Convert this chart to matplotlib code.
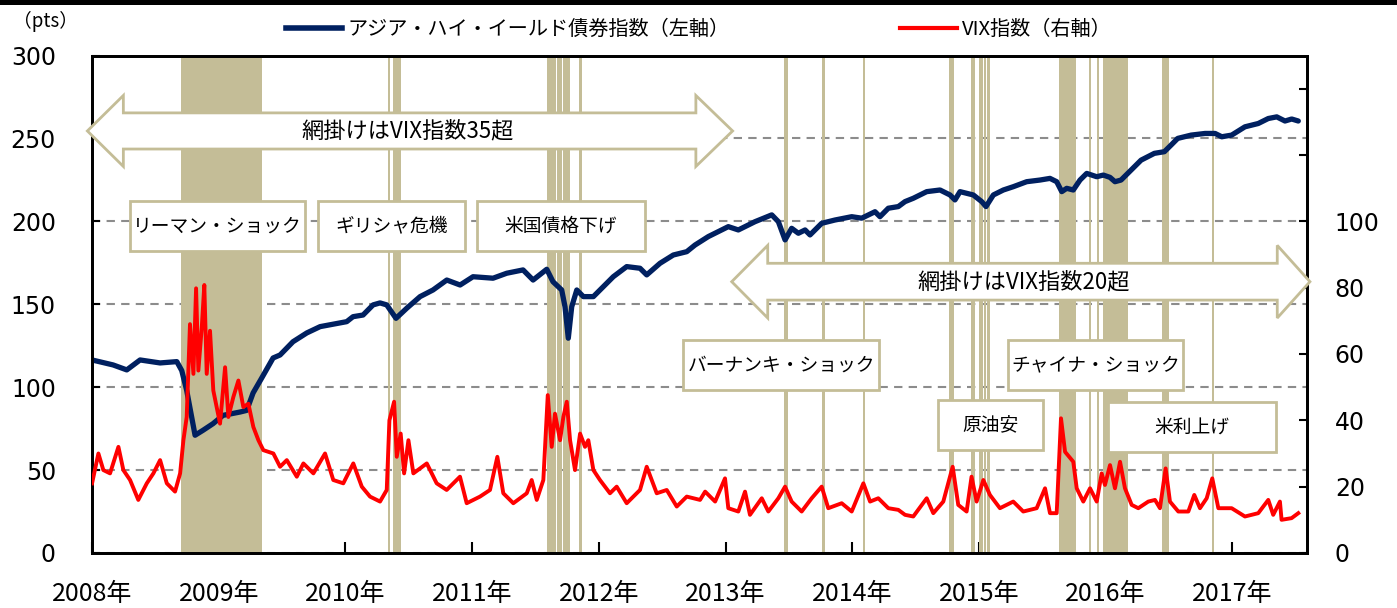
import matplotlib
matplotlib.use("Agg")
import matplotlib.pyplot as plt
from matplotlib.lines import Line2D
from matplotlib.patches import Polygon, Rectangle
import numpy as np

plt.rcParams['font.family'] = ['Noto Sans CJK JP', 'DejaVu Sans']

# Asia high yield bond index (left axis), x in decimal years
hy_t = [2008.000, 2008.166, 2008.274, 2008.379, 2008.537, 2008.669, 2008.708, 2008.747,
        2008.813, 2008.876, 2008.955, 2009.034, 2009.168, 2009.221, 2009.271, 2009.339,
        2009.429, 2009.484, 2009.586, 2009.695, 2009.800, 2010.010, 2010.060, 2010.139,
        2010.218, 2010.273, 2010.326, 2010.399, 2010.484, 2010.589, 2010.691, 2010.800,
        2010.905, 2011.007, 2011.165, 2011.273, 2011.402, 2011.481, 2011.589, 2011.638,
        2011.707, 2011.733, 2011.759, 2011.786, 2011.826, 2011.878, 2011.957, 2012.114,
        2012.220, 2012.325, 2012.378, 2012.483, 2012.588, 2012.694, 2012.759, 2012.864,
        2013.022, 2013.101, 2013.233, 2013.365, 2013.417, 2013.470, 2013.522, 2013.575,
        2013.628, 2013.667, 2013.759, 2013.864, 2013.996, 2014.075, 2014.180, 2014.219,
        2014.285, 2014.364, 2014.417, 2014.482, 2014.588, 2014.693, 2014.772, 2014.811,
        2014.851, 2014.956, 2015.022, 2015.056, 2015.114, 2015.193, 2015.272, 2015.377,
        2015.482, 2015.561, 2015.614, 2015.654, 2015.693, 2015.745, 2015.798, 2015.851,
        2015.930, 2015.982, 2016.035, 2016.074, 2016.122, 2016.201, 2016.280, 2016.385,
        2016.464, 2016.517, 2016.569, 2016.675, 2016.785, 2016.864, 2016.917, 2016.995,
        2017.100, 2017.205, 2017.284, 2017.351, 2017.416, 2017.469, 2017.521]
hy_v = [116.4, 113.4, 110.4, 116.4, 114.6, 115.4, 110.0, 98.0,
        71.0, 74.0, 78.0, 83.0, 85.0, 86.0, 96.5, 105.5,
        117.6, 119.4, 127.4, 132.7, 136.5, 139.5, 142.5, 143.5,
        149.6, 150.8, 149.6, 141.5, 147.6, 154.6, 158.6, 164.6,
        161.6, 166.6, 165.7, 168.7, 170.7, 164.6, 171.1, 163.6,
        158.6, 148.5, 129.5, 148.5, 158.6, 154.6, 154.6, 166.6,
        172.7, 171.7, 167.7, 174.7, 179.7, 181.7, 185.7, 190.8,
        196.8, 194.8, 199.8, 203.9, 199.8, 188.8, 195.8, 192.8,
        194.8, 191.8, 198.8, 200.8, 202.8, 201.9, 205.8, 202.8,
        207.9, 208.9, 211.9, 213.9, 217.9, 218.9, 215.9, 212.9,
        217.9, 215.9, 211.9, 208.9, 215.9, 218.9, 220.9, 223.9,
        224.9, 225.9, 223.9, 217.9, 219.9, 218.9, 224.9, 228.9,
        226.9, 227.9, 226.5, 223.9, 224.9, 230.9, 236.9, 241.0,
        242.0, 246.0, 250.0, 252.0, 253.0, 253.0, 251.0, 252.0,
        257.0, 259.0, 262.0, 263.0, 260.5, 261.7, 260.5]

# VIX (right axis)
vix_t = [2008.000, 2008.050, 2008.089, 2008.142, 2008.208, 2008.247, 2008.300, 2008.365,
         2008.432, 2008.484, 2008.537, 2008.590, 2008.655, 2008.695, 2008.721, 2008.747,
         2008.773, 2008.800, 2008.821, 2008.839, 2008.866, 2008.886, 2008.905, 2008.931,
         2008.957, 2009.010, 2009.050, 2009.076, 2009.115, 2009.155, 2009.194, 2009.234,
         2009.273, 2009.313, 2009.352, 2009.431, 2009.484, 2009.537, 2009.616, 2009.668,
         2009.747, 2009.839, 2009.904, 2009.983, 2010.062, 2010.129, 2010.194, 2010.273,
         2010.326, 2010.347, 2010.384, 2010.405, 2010.436, 2010.463, 2010.497, 2010.536,
         2010.642, 2010.720, 2010.799, 2010.904, 2010.957, 2011.062, 2011.141, 2011.199,
         2011.246, 2011.325, 2011.431, 2011.470, 2011.510, 2011.562, 2011.597, 2011.628,
         2011.654, 2011.694, 2011.720, 2011.747, 2011.773, 2011.812, 2011.852, 2011.891,
         2011.917, 2011.957, 2012.009, 2012.088, 2012.141, 2012.220, 2012.325, 2012.378,
         2012.457, 2012.536, 2012.615, 2012.694, 2012.799, 2012.839, 2012.918, 2012.996,
         2013.022, 2013.101, 2013.154, 2013.193, 2013.286, 2013.338, 2013.417, 2013.470,
         2013.522, 2013.601, 2013.680, 2013.759, 2013.811, 2013.917, 2013.996, 2014.088,
         2014.141, 2014.206, 2014.285, 2014.364, 2014.417, 2014.482, 2014.588, 2014.640,
         2014.719, 2014.793, 2014.837, 2014.903, 2014.942, 2014.982, 2015.035, 2015.087,
         2015.166, 2015.271, 2015.350, 2015.456, 2015.522, 2015.561, 2015.614, 2015.648,
         2015.680, 2015.745, 2015.772, 2015.824, 2015.877, 2015.930, 2015.969, 2015.995,
         2016.035, 2016.074, 2016.114, 2016.153, 2016.206, 2016.258, 2016.337, 2016.390,
         2016.429, 2016.474, 2016.508, 2016.574, 2016.653, 2016.700, 2016.745, 2016.798,
         2016.842, 2016.890, 2016.995, 2017.100, 2017.205, 2017.284, 2017.323, 2017.376,
         2017.389, 2017.468, 2017.521]
vix_v = [21, 30, 25, 24, 32, 25, 22, 16,
         21, 24, 28, 21, 18.5, 24, 34, 41,
         69, 54, 79.8, 55, 68, 80.8, 54, 67,
         49, 39, 56, 41, 47, 52, 44, 45,
         38, 34, 31, 30, 26, 28, 23, 27,
         24, 30, 22, 21, 27, 20, 17, 15.5,
         19, 40, 45.6, 29, 36, 24, 34, 24,
         27, 21, 19, 23, 15, 17, 19, 29,
         18, 15, 18, 22, 16, 22, 47.6, 32,
         42, 34, 41, 45.6, 34, 25, 36, 32,
         34, 25, 22, 18, 20, 15, 19, 26,
         18, 19, 14, 17, 16, 18.5, 15.5, 22.5,
         13.5, 12.5, 18.5, 11.5, 16.5, 12.5, 16.5, 20,
         15.5, 12.5, 16.5, 20, 13.5, 15, 12.5, 21,
         15.5, 16.5, 13.5, 13, 11.5, 11, 16.5, 12,
         15.5, 26, 14.5, 12.5, 23, 15.5, 22, 17.5,
         13.5, 15.5, 12.5, 13.5, 19.5, 12, 12, 40.6,
         30.5, 27.5, 19.5, 15.5, 19.5, 15.5, 24, 20.5,
         26.5, 19.5, 27.5, 19.5, 14.5, 13.5, 15.5, 16,
         13.5, 25.5, 15.5, 12.5, 12.5, 17.5, 13.5, 16.5,
         22.5, 13.5, 13.5, 11, 12, 16, 11.5, 15.5,
         10, 10.5, 12]

# periods with VIX above threshold (shaded)
band_start = [2008.702, 2010.339, 2010.373, 2011.589, 2011.672, 2011.715, 2011.846,
              2013.464, 2013.762, 2014.083, 2014.766, 2014.940, 2015.001, 2015.043,
              2015.064, 2015.635, 2015.867, 2015.930, 2015.977, 2016.448, 2016.837]
band_end = [2009.339, 2010.352, 2010.436, 2011.662, 2011.710, 2011.773, 2011.865,
            2013.491, 2013.783, 2014.103, 2014.804, 2014.967, 2015.035, 2015.056,
            2015.088, 2015.764, 2015.885, 2015.950, 2016.174, 2016.501, 2016.853]

years = list(range(2008, 2018))
year_labels = [f"{y}年" for y in years]
left_ticks = [0, 50, 100, 150, 200, 250, 300]
right_ticks = [0, 20, 40, 60, 80, 100, 120, 140]
right_labels = ['0', '20', '40', '60', '80', '100', '', '']

# event boxes: label, x0, x1, y_top, y_bottom (left axis units)
events = [
    ("リーマン・ショック", 2008.300, 2009.681, 212.4, 182.3),
    ("ギリシャ危機", 2009.786, 2010.944, 212.4, 182.3),
    ("米国債格下げ", 2011.036, 2012.365, 212.4, 182.3),
    ("バーナンキ・ショック", 2012.667, 2014.212, 128.4, 98.3),
    ("原油安", 2014.680, 2015.508, 92.3, 62.1),
    ("チャイナ・ショック", 2015.232, 2016.613, 128.4, 98.3),
    ("米利上げ", 2016.021, 2017.342, 91.2, 61.1),
]

TAN = '#C4BD97'
NAVY = '#002060'
RED = '#FF0000'

fig = plt.figure(figsize=(13.97, 6.08), dpi=100)
ax = fig.add_axes([0.0659, 0.0905, 0.8697, 0.8182])
ax2 = ax.twinx()

ax.set_xlim(2008.0, 2017.59)
ax.set_ylim(0, 300)
ax2.set_ylim(0, 150)

ax.yaxis.grid(True, color='#8C8C8C', linestyle=(0, (4, 3)), linewidth=1.5, zorder=1)
ax.set_axisbelow(True)

for s, e in zip(band_start, band_end):
    ax.axvspan(s, e, color=TAN, lw=0, zorder=2)

ax.plot(hy_t, hy_v, color=NAVY, lw=3.8, solid_capstyle='round', zorder=3)
ax2.plot(vix_t, vix_v, color=RED, lw=2.8, zorder=3)


def double_arrow(x0, x1, yc, hh, sw, hl0, hl1):
    pts = [(x0, yc), (x0 + hl0, yc + hh), (x0 + hl0, yc + sw), (x1 - hl1, yc + sw),
           (x1 - hl1, yc + hh), (x1, yc), (x1 - hl1, yc - hh), (x1 - hl1, yc - sw),
           (x0 + hl0, yc - sw), (x0 + hl0, yc - hh)]
    ax2.add_patch(Polygon(pts, closed=True, facecolor='white', edgecolor=TAN, lw=2,
                          transform=ax.transData, clip_on=False, zorder=5))


double_arrow(2007.963, 2013.056, 254.5, 21.4, 10.9, 0.284, 0.29)
ax2.text(2010.49, 254.5, "網掛けはVIX指数35超", transform=ax.transData, ha='center',
         va='center', fontsize=16, zorder=6)
double_arrow(2013.049, 2017.613, 163.6, 21.9, 11.1, 0.284, 0.258)
ax2.text(2015.35, 163.6, "網掛けはVIX指数20超", transform=ax.transData, ha='center',
         va='center', fontsize=16, zorder=6)

for label, x0, x1, yt, yb in events:
    ax2.add_patch(Rectangle((x0, yb), x1 - x0, yt - yb, facecolor='white', edgecolor=TAN,
                            lw=2, transform=ax.transData, zorder=5))
    ax2.text((x0 + x1) / 2, (yt + yb) / 2, label, transform=ax.transData, ha='center',
             va='center', fontsize=13.5, zorder=6)

ax.set_xticks(years)
ax.set_xticklabels(year_labels, fontsize=18)
ax.set_yticks(left_ticks)
ax.set_yticklabels([str(v) for v in left_ticks], fontsize=17, family='DejaVu Sans')
ax2.set_yticks(right_ticks)
ax2.set_yticklabels(right_labels, fontsize=17, family='DejaVu Sans')

ax.tick_params(axis='x', direction='in', length=8, width=1.5, pad=20)
ax.tick_params(axis='y', direction='in', length=6, width=1.5, pad=26)
ax2.tick_params(axis='y', direction='in', length=6, width=1.5, pad=20)

for a in (ax, ax2):
    for sp in a.spines.values():
        sp.set_linewidth(2)
        sp.set_color('black')

fig.text(0.009, 0.965, "（pts）", fontsize=13.5, ha='left', va='center')

handles = [Line2D([], [], color=NAVY, lw=4), Line2D([], [], color=RED, lw=3)]
fig.legend(handles, ["アジア・ハイ・イールド債券指数（左軸）", "VIX指数（右軸）"],
           loc='center', bbox_to_anchor=(0.5, 0.951), ncol=2, frameon=False,
           fontsize=14.5, handlelength=2.8, handletextpad=0.25, columnspacing=8.5)

fig.patches.append(Rectangle((0, 0.992), 1, 0.008, transform=fig.transFigure,
                             facecolor='black', edgecolor='none'))

fig.savefig("out.png", dpi=100)
